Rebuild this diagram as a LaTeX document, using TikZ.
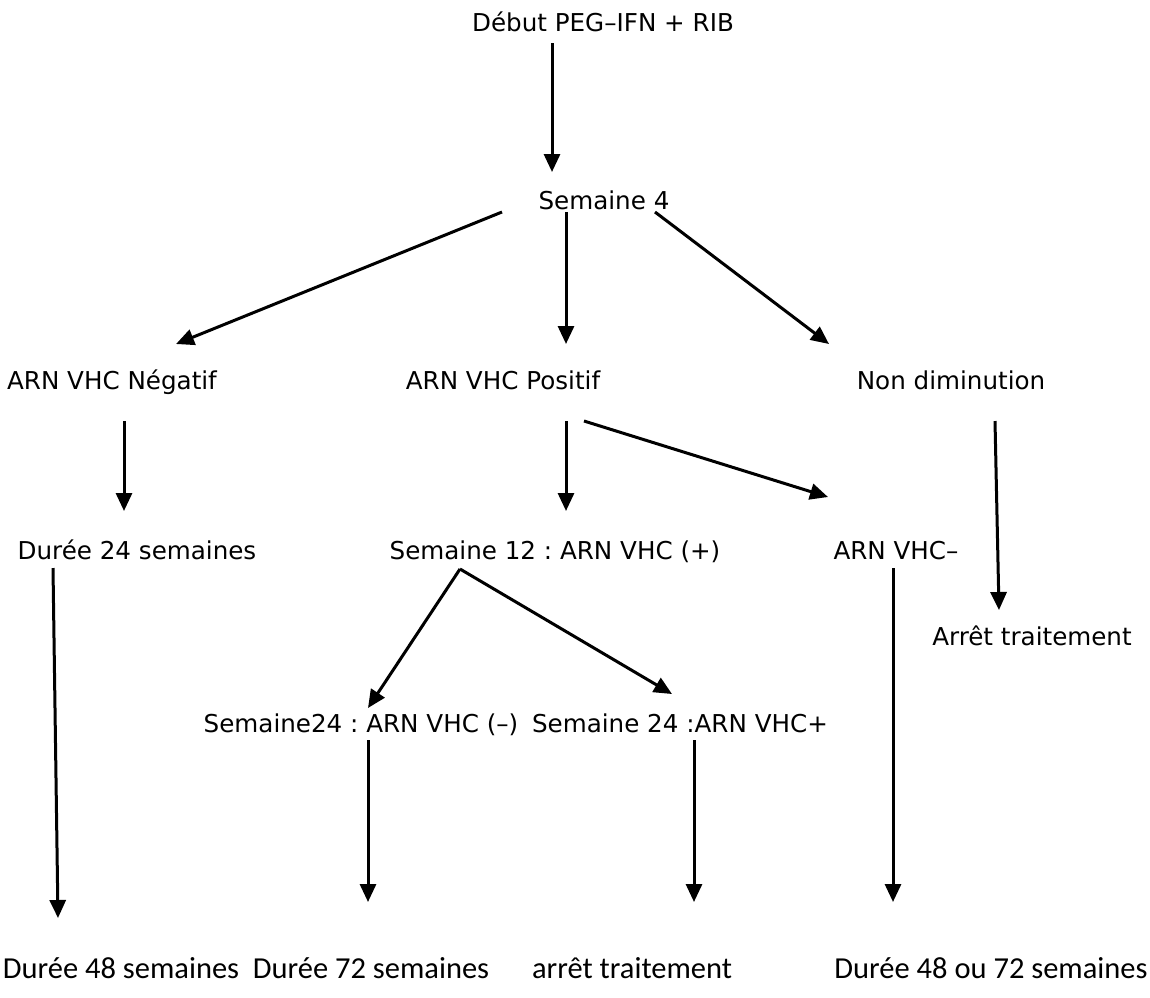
\documentclass[tikz,border=0pt]{standalone}
\usepackage{fontspec}
\setmainfont{DejaVu Sans}
\newfontfamily\calib{Carlito}
\usetikzlibrary{arrows.meta}
\frenchspacing
\begin{document}
\begin{tikzpicture}[x=1pt,y=-1pt,
  lbl/.style={anchor=base, inner sep=0pt, font=\fontsize{24.6}{28}\selectfont},
  lblc/.style={anchor=base, inner sep=0pt, font=\calib\fontsize{30.5}{36}\selectfont},
  arr/.style={line width=3pt, -{Triangle[length=18pt,width=16pt]}}]
\useasboundingbox (0,0) rectangle (1150,997);

% labels
\node[lbl] (deb)  at (603,31)  {Début PEG–IFN + RIB};
\node[lbl] (s4)   at (604,209) {Semaine 4};
\node[lbl] (neg)  at (112,389) {ARN VHC Négatif};
\node[lbl] (pos)  at (503,389) {ARN VHC Positif};
\node[lbl] (nond) at (951,389) {Non diminution};
\node[lbl] (d24)  at (137,559) {Durée 24 semaines};
\node[lbl] (s12)  at (555,559) {Semaine 12 : ARN VHC (+)};
\node[lbl] (vm)   at (896,559) {ARN VHC–};
\node[lbl] (arr1) at (1032,645) {Arrêt traitement};
\node[lbl] (s24m) at (361,732) {Semaine24 : ARN VHC (–)};
\node[lbl] (s24p) at (680,732) {Semaine 24 :ARN VHC+};
\node[lblc] (d48)  at (121,978) {Durée 48 semaines};
\node[lblc] (d72)  at (371,978) {Durée 72 semaines};
\node[lblc] (arr2) at (632,978) {arrêt traitement};
\node[lblc] (d4872) at (991,978) {Durée 48 ou 72 semaines};

% connector ends
\coordinate (deb-o)  at (552,43);   \coordinate (s4-i)   at (552,172);
\coordinate (s4-oL)  at (502,212);  \coordinate (neg-i)  at (176,344);
\coordinate (s4-oM)  at (566,212);  \coordinate (pos-i)  at (566,344);
\coordinate (s4-oR)  at (655,212);  \coordinate (nond-i) at (829,344);
\coordinate (neg-o)  at (124,421);  \coordinate (d24-i)  at (124,511);
\coordinate (pos-oM) at (566,421);  \coordinate (s12-i)  at (566,511);
\coordinate (pos-oR) at (584,421);  \coordinate (vm-i)   at (828,497);
\coordinate (nond-o) at (995,421);  \coordinate (arr1-i) at (999,610);
\coordinate (d24-o)  at (53,568);   \coordinate (d48-i)  at (58,918);
\coordinate (s12-o)  at (460,569);  \coordinate (s24m-i) at (368,708);
                                    \coordinate (s24p-i) at (672,694);
\coordinate (s24m-o) at (368,740);  \coordinate (d72-i)  at (368,902);
\coordinate (s24p-o) at (694,740);  \coordinate (arr2-i) at (694,902);
\coordinate (vm-o)   at (893,568);  \coordinate (d4872-i) at (893,902);

% connectors
\draw[arr] (deb-o) -- (s4-i);
\draw[arr] (s4-oL) -- (neg-i);
\draw[arr] (s4-oM) -- (pos-i);
\draw[arr] (s4-oR) -- (nond-i);
\draw[arr] (neg-o) -- (d24-i);
\draw[arr] (pos-oM) -- (s12-i);
\draw[arr] (pos-oR) -- (vm-i);
\draw[arr] (nond-o) -- (arr1-i);
\draw[arr] (d24-o) -- (d48-i);
\draw[arr] (s12-o) -- (s24m-i);
\draw[arr] (s12-o) -- (s24p-i);
\draw[arr] (s24m-o) -- (d72-i);
\draw[arr] (s24p-o) -- (arr2-i);
\draw[arr] (vm-o) -- (d4872-i);
\end{tikzpicture}
\end{document}
